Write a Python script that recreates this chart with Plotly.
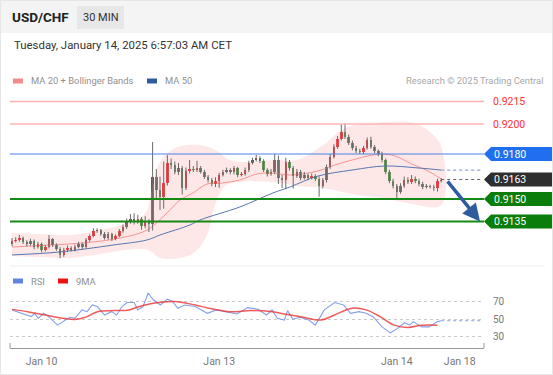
import plotly.graph_objects as go

# ---------------- data ----------------
candle_index = list(range(117))

open_ = [0.91200, 0.91220, 0.91227, 0.91240, 0.91213, 0.91200, 0.91220, 0.91180, 0.91200, 0.91160,
         0.91180, 0.91233, 0.91193, 0.91167, 0.91127, 0.91160, 0.91173, 0.91160, 0.91180, 0.91200,
         0.91180, 0.91227, 0.91253, 0.91287, 0.91293, 0.91267, 0.91240, 0.91267, 0.91233, 0.91253,
         0.91287, 0.91313, 0.91347, 0.91367, 0.91353, 0.91367, 0.91320, 0.91353, 0.91333, 0.91647,
         0.91560, 0.91513, 0.91607, 0.91740, 0.91727, 0.91680, 0.91707, 0.91573, 0.91687, 0.91700,
         0.91693, 0.91707, 0.91680, 0.91647, 0.91627, 0.91600, 0.91620, 0.91660, 0.91680, 0.91693,
         0.91680, 0.91707, 0.91660, 0.91667, 0.91693, 0.91740, 0.91760, 0.91773, 0.91753, 0.91693,
         0.91667, 0.91680, 0.91760, 0.91640, 0.91627, 0.91747, 0.91707, 0.91653, 0.91680, 0.91640,
         0.91660, 0.91640, 0.91653, 0.91633, 0.91587, 0.91627, 0.91713, 0.91780, 0.91847, 0.91900,
         0.91947, 0.91913, 0.91873, 0.91840, 0.91820, 0.91813, 0.91840, 0.91893, 0.91847, 0.91820,
         0.91800, 0.91760, 0.91680, 0.91620, 0.91587, 0.91547, 0.91587, 0.91627, 0.91613, 0.91633,
         0.91620, 0.91600, 0.91580, 0.91587, 0.91580, 0.91573, 0.91620]

close = [0.91220, 0.91227, 0.91240, 0.91213, 0.91200, 0.91220, 0.91180, 0.91200, 0.91160, 0.91180,
         0.91233, 0.91193, 0.91167, 0.91127, 0.91160, 0.91173, 0.91160, 0.91180, 0.91200, 0.91180,
         0.91227, 0.91253, 0.91287, 0.91293, 0.91267, 0.91240, 0.91267, 0.91233, 0.91253, 0.91287,
         0.91313, 0.91347, 0.91367, 0.91353, 0.91367, 0.91320, 0.91353, 0.91333, 0.91647, 0.91560,
         0.91513, 0.91607, 0.91740, 0.91727, 0.91680, 0.91707, 0.91573, 0.91687, 0.91700, 0.91693,
         0.91707, 0.91680, 0.91647, 0.91627, 0.91600, 0.91620, 0.91660, 0.91680, 0.91693, 0.91680,
         0.91707, 0.91660, 0.91667, 0.91693, 0.91740, 0.91760, 0.91773, 0.91753, 0.91693, 0.91667,
         0.91680, 0.91760, 0.91640, 0.91627, 0.91747, 0.91707, 0.91653, 0.91680, 0.91640, 0.91660,
         0.91640, 0.91653, 0.91633, 0.91587, 0.91627, 0.91713, 0.91780, 0.91847, 0.91900, 0.91947,
         0.91913, 0.91873, 0.91840, 0.91820, 0.91813, 0.91840, 0.91893, 0.91847, 0.91820, 0.91800,
         0.91760, 0.91680, 0.91620, 0.91587, 0.91547, 0.91587, 0.91627, 0.91613, 0.91633, 0.91620,
         0.91600, 0.91580, 0.91587, 0.91580, 0.91573, 0.91620, 0.91630]

high = [0.91240, 0.91245, 0.91260, 0.91250, 0.91225, 0.91235, 0.91230, 0.91215, 0.91210, 0.91195,
        0.91260, 0.91240, 0.91205, 0.91180, 0.91175, 0.91190, 0.91185, 0.91195, 0.91215, 0.91210,
        0.91240, 0.91265, 0.91305, 0.91305, 0.91300, 0.91280, 0.91280, 0.91275, 0.91265, 0.91300,
        0.91330, 0.91370, 0.91400, 0.91405, 0.91395, 0.91380, 0.91385, 0.91365, 0.91880, 0.91700,
        0.91650, 0.91750, 0.91793, 0.91770, 0.91750, 0.91740, 0.91720, 0.91710, 0.91760, 0.91720,
        0.91755, 0.91720, 0.91695, 0.91660, 0.91640, 0.91645, 0.91675, 0.91695, 0.91710, 0.91705,
        0.91720, 0.91715, 0.91680, 0.91710, 0.91755, 0.91775, 0.91795, 0.91785, 0.91765, 0.91705,
        0.91700, 0.91800, 0.91790, 0.91660, 0.91775, 0.91760, 0.91720, 0.91700, 0.91695, 0.91680,
        0.91670, 0.91670, 0.91665, 0.91650, 0.91640, 0.91730, 0.91800, 0.91865, 0.91920, 0.92000,
        0.92007, 0.91930, 0.91890, 0.91855, 0.91835, 0.91855, 0.91910, 0.91915, 0.91860, 0.91830,
        0.91815, 0.91770, 0.91695, 0.91635, 0.91600, 0.91605, 0.91650, 0.91645, 0.91660, 0.91650,
        0.91635, 0.91615, 0.91600, 0.91595, 0.91595, 0.91635, 0.91640]

low = [0.91185, 0.91210, 0.91215, 0.91200, 0.91185, 0.91190, 0.91165, 0.91170, 0.91145, 0.91150,
       0.91170, 0.91180, 0.91155, 0.91105, 0.91115, 0.91145, 0.91150, 0.91150, 0.91170, 0.91165,
       0.91170, 0.91215, 0.91245, 0.91275, 0.91255, 0.91230, 0.91230, 0.91220, 0.91225, 0.91245,
       0.91275, 0.91300, 0.91335, 0.91330, 0.91335, 0.91295, 0.91305, 0.91280, 0.91290, 0.91500,
       0.91427, 0.91435, 0.91590, 0.91700, 0.91665, 0.91660, 0.91530, 0.91560, 0.91670, 0.91680,
       0.91680, 0.91670, 0.91635, 0.91610, 0.91585, 0.91580, 0.91575, 0.91650, 0.91670, 0.91665,
       0.91665, 0.91645, 0.91650, 0.91655, 0.91680, 0.91730, 0.91750, 0.91740, 0.91680, 0.91650,
       0.91655, 0.91665, 0.91600, 0.91573, 0.91565, 0.91690, 0.91570, 0.91640, 0.91625, 0.91630,
       0.91625, 0.91630, 0.91620, 0.91515, 0.91570, 0.91610, 0.91700, 0.91770, 0.91835, 0.91890,
       0.91900, 0.91860, 0.91825, 0.91805, 0.91800, 0.91800, 0.91830, 0.91835, 0.91805, 0.91785,
       0.91745, 0.91665, 0.91605, 0.91570, 0.91507, 0.91535, 0.91575, 0.91600, 0.91600, 0.91605,
       0.91585, 0.91565, 0.91570, 0.91570, 0.91555, 0.91550, 0.91610]

ma50_idx = [0, 13, 27.3, 36.5, 40, 48.1, 50.8, 61.6, 70.5, 75.1, 82.7, 91.9, 100.8, 109.7, 116]
ma50 = [0.91127, 0.91147, 0.91193, 0.91227, 0.91260, 0.91327, 0.91360, 0.91447, 0.91540,
        0.91580, 0.91653, 0.91693, 0.91720, 0.91707, 0.91693]

ma20_idx = [0, 10.3, 19.2, 29.2, 36.5, 41.9, 45.4, 48.9, 52.7, 57, 61.6, 66.2, 70.5, 75.1,
            82.7, 87.3, 91.9, 96.2, 100, 103.5, 108.1, 112.4, 116]
ma20 = [0.91180, 0.91193, 0.91207, 0.91240, 0.91293, 0.91407, 0.91493, 0.91540, 0.91600,
        0.91607, 0.91627, 0.91667, 0.91673, 0.91660, 0.91687, 0.91727, 0.91760, 0.91787,
        0.91800, 0.91787, 0.91733, 0.91687, 0.91633]

bb_up_idx = [0, 7.6, 15.7, 23.8, 30.5, 35.9, 37.8, 40, 44.1, 50.8, 54.9, 58.9, 64.3, 71.1,
             77, 84.1, 90, 97.6, 108.4, 113, 116]
bb_up = [0.91273, 0.91267, 0.91260, 0.91293, 0.91333, 0.91400, 0.91560, 0.91747, 0.91840,
         0.91860, 0.91827, 0.91760, 0.91747, 0.91760, 0.91760, 0.91860, 0.91973, 0.92007,
         0.92007, 0.91947, 0.91850]

bb_lo_idx = [0, 7.6, 15.7, 23.8, 30.5, 36.8, 40, 45.4, 49.5, 52.7, 54.9, 57.6, 61.6, 70.5,
             77, 84.1, 93.2, 100.3, 106.8, 116]
bb_lo = [0.91120, 0.91113, 0.91107, 0.91133, 0.91160, 0.91160, 0.91107, 0.91107, 0.91147,
         0.91260, 0.91460, 0.91587, 0.91613, 0.91613, 0.91587, 0.91573, 0.91527, 0.91507,
         0.91473, 0.91460]

rsi_idx = [0, 1.4, 3.3, 5.2, 6.1, 7.1, 8.5, 9.9, 12.3, 13.7, 15.6, 17, 18.9, 20.3, 21.7, 23.1,
           25, 26.9, 28.3, 29.7, 31.1, 33, 34, 35.4, 36.8, 38.2, 40.1, 42, 43.4, 44.8, 46.7,
           49.5, 52.8, 55.2, 58, 60.8, 63.7, 66.5, 68.8, 70.3, 71.7, 73.6, 74.5, 75.9, 77.8,
           80.2, 82, 84.4, 87.2, 89.6, 91.5, 93.8, 95.7, 97.6, 100, 102.3, 104.2, 106.1,
           107.5, 108.4, 110.8, 112.7, 115, 116]
rsi = [60.4, 58.4, 55.8, 52.7, 56.5, 50.8, 56.5, 52.7, 43, 47, 52, 50.8, 60.4, 58.4, 66, 64.2,
       54.6, 58.4, 54.6, 64.2, 68.8, 68.8, 60.4, 64.2, 79.7, 72, 66, 72.7, 70, 62.3, 66,
       64.2, 56.5, 60.4, 58.4, 55.8, 63, 61.2, 54.6, 60.4, 50.8, 48.8, 59.6, 49.6, 52,
       48.8, 43, 60.4, 68.8, 66, 56.5, 58.4, 56.5, 52.7, 41, 34.2, 39.3, 45.7,
       43, 47, 41, 41, 47, 48]

rsi_ma_idx = [0, 4.2, 9, 13.7, 17.4, 20.3, 23.1, 27.8, 31.6, 34.4, 38.2, 43.8, 49.5, 53.3,
              58.9, 64.6, 70.3, 74, 78.7, 83.5, 87.2, 91.9, 95.7, 99.5, 103.3, 107, 110.8, 115]
rsi_ma = [61, 58.4, 54.6, 50.8, 49.6, 52.7, 58.4, 59.6, 60.4, 64.2, 68, 70, 66, 62.3,
          58.4, 59.6, 58.4, 55.4, 52, 48.8, 54.6, 62.3, 60.4, 52.7, 43, 40.4, 43, 43]

levels = [0.9215, 0.9200, 0.9180, 0.9163, 0.9150, 0.9135]
level_labels = ["0.9215", "0.9200", "0.9180", "0.9163", "0.9150", "0.9135"]
level_kinds = ["res", "res", "blue", "last", "green", "green"]
target_level = 0.9135

tick_idx = [8, 56, 104, 121]
tick_text = ["Jan 10", "Jan 13", "Jan 14", "Jan 18"]
rsi_ticks = [30, 50, 70]

# ---------------- layout helpers ----------------
W, H = 553, 375
FONT = "Roboto, Arial, sans-serif"


def px(x):
    return x / W


def py(y):
    return 1 - y / H


PIX_PER_PRICE = 15000.0
UP_COL = "#e3202a"
DN_COL = "#2b8a3a"

fig = go.Figure()

# Bollinger band blob
fig.add_trace(go.Scatter(
    x=bb_up_idx + bb_lo_idx[::-1], y=bb_up + bb_lo[::-1],
    mode="lines", fill="toself", fillcolor="rgba(250,170,170,0.28)",
    line=dict(width=0, shape="spline", smoothing=1.0),
    hoverinfo="skip", xaxis="x", yaxis="y"))

# MA 20
fig.add_trace(go.Scatter(x=ma20_idx, y=ma20, mode="lines",
                         line=dict(color="rgba(240,120,120,0.75)", width=1, shape="spline"),
                         hoverinfo="skip", xaxis="x", yaxis="y"))
# MA 50
fig.add_trace(go.Scatter(x=ma50_idx, y=ma50, mode="lines",
                         line=dict(color="#5877b0", width=1, shape="spline"),
                         hoverinfo="skip", xaxis="x", yaxis="y"))
ext_end = 127.0
fig.add_trace(go.Scatter(x=[ma50_idx[-1], ext_end], y=[ma50[-1], ma50[-1]], mode="lines",
                         line=dict(color="#8ea6d6", width=1.2, dash="dot"),
                         hoverinfo="skip", xaxis="x", yaxis="y"))
# last price dotted
fig.add_trace(go.Scatter(x=[candle_index[-1], ext_end], y=[close[-1], close[-1]], mode="lines",
                         line=dict(color="#666666", width=1.2, dash="dot"),
                         hoverinfo="skip", xaxis="x", yaxis="y"))

# wicks
wx, wy = [], []
for i, h, l in zip(candle_index, high, low):
    wx += [i, i, None]
    wy += [l, h, None]
fig.add_trace(go.Scatter(x=wx, y=wy, mode="lines", line=dict(color="#6a6a6a", width=1),
                         hoverinfo="skip", xaxis="x", yaxis="y"))

# bodies
bases, heights, cols = [], [], []
for o, c in zip(open_, close):
    bases.append(min(o, c))
    heights.append(max(abs(c - o), 0.00004))
    cols.append(UP_COL if c >= o else DN_COL)
fig.add_trace(go.Bar(x=candle_index, y=heights, base=bases, width=0.66,
                     marker=dict(color=cols, line=dict(width=0)),
                     hoverinfo="skip", xaxis="x", yaxis="y"))

# RSI
fig.add_trace(go.Scatter(x=rsi_idx, y=rsi, mode="lines",
                         line=dict(color="#86a0ea", width=1.1),
                         hoverinfo="skip", xaxis="x", yaxis="y2"))
fig.add_trace(go.Scatter(x=[rsi_idx[-1], ext_end], y=[rsi[-1], rsi[-1]], mode="lines",
                         line=dict(color="#86a0ea", width=1.2, dash="dot"),
                         hoverinfo="skip", xaxis="x", yaxis="y2"))
fig.add_trace(go.Scatter(x=rsi_ma_idx, y=rsi_ma, mode="lines",
                         line=dict(color="rgba(236,50,50,0.8)", width=1.5, shape="spline"),
                         hoverinfo="skip", xaxis="x", yaxis="y2"))

shapes = []
annotations = []

# header band
shapes.append(dict(type="rect", xref="paper", yref="paper", x0=0, x1=1, y0=py(33), y1=1,
                   fillcolor="#f4f4f4", line=dict(width=0), layer="below"))
shapes.append(dict(type="rect", xref="paper", yref="paper", x0=px(77), x1=px(124),
                   y0=py(29), y1=py(6), fillcolor="#e7e7e7", line=dict(width=0), layer="below"))
# outer border
shapes.append(dict(type="rect", xref="paper", yref="paper", x0=px(0.5), x1=px(552.5),
                   y0=py(374.5), y1=py(0.5), line=dict(color="#e6e6e6", width=1)))
# panel separator
shapes.append(dict(type="line", xref="paper", yref="paper", x0=px(10), x1=px(545),
                   y0=py(266), y1=py(266), line=dict(color="#eeeeee", width=1)))

# level lines + tags
half = 7.0 / PIX_PER_PRICE
for lv, lab, kind in zip(levels, level_labels, level_kinds):
    if kind == "res":
        shapes.append(dict(type="line", xref="x domain", yref="y", x0=0, x1=1, y0=lv, y1=lv,
                           line=dict(color="#fbb4b4", width=1.7)))
        annotations.append(dict(xref="paper", yref="y", x=px(491), y=lv, text=lab,
                                showarrow=False, xanchor="left", yanchor="middle",
                                font=dict(family=FONT, size=10.5, color="#ff3030")))
        continue
    if kind == "blue":
        lcol, tcol, lw = "#4a82e6", "#1f6ff0", 1
    elif kind == "green":
        lcol, tcol, lw = "#148a14", "#0a7d0a", 2
    else:
        lcol, tcol, lw = None, "#2e2e2e", 0
    if lcol:
        shapes.append(dict(type="line", xref="x domain", yref="y", x0=0, x1=1, y0=lv, y1=lv,
                           line=dict(color=lcol, width=lw)))
    xa, xb, xc = px(484), px(491), px(552)
    path = (f"M {xa},{lv} L {xb},{lv + half} L {xc},{lv + half} "
            f"L {xc},{lv - half} L {xb},{lv - half} Z")
    shapes.append(dict(type="path", xref="paper", yref="y", path=path,
                       fillcolor=tcol, line=dict(width=0)))
    annotations.append(dict(xref="paper", yref="y", x=px(491.5), y=lv, text=lab,
                            showarrow=False, xanchor="left", yanchor="middle",
                            font=dict(family=FONT, size=10.5, color="white")))

# x axis end caps
for xe in (0, 1):
    shapes.append(dict(type="line", xref="x domain", yref="paper", x0=xe, x1=xe,
                       y0=py(348), y1=py(343), line=dict(color="#999999", width=1)))

# forecast arrow
annotations.append(dict(x=candle_index[-1] + 10.5, y=target_level,
                        ax=candle_index[-1] + 1.4, ay=close[-1] - 0.00003,
                        xref="x", yref="y", axref="x", ayref="y", text="",
                        showarrow=True, arrowhead=2, arrowsize=1.0, arrowwidth=3.5,
                        arrowcolor="#2f5c9e", standoff=0))

# header texts
annotations.append(dict(xref="paper", yref="paper", x=px(10), y=py(17), text="<b>USD/CHF</b>",
                        showarrow=False, xanchor="left", yanchor="middle",
                        font=dict(family=FONT, size=13.5, color="#222222")))
annotations.append(dict(xref="paper", yref="paper", x=px(100.5), y=py(17.5), text="30 MIN",
                        showarrow=False, xanchor="center", yanchor="middle",
                        font=dict(family=FONT, size=11, color="#333333")))
annotations.append(dict(xref="paper", yref="paper", x=px(12), y=py(45),
                        text="Tuesday, January 14, 2025 6:57:03 AM CET",
                        showarrow=False, xanchor="left", yanchor="middle",
                        font=dict(family=FONT, size=11.4, color="#333333")))
annotations.append(dict(xref="paper", yref="paper", x=px(545), y=py(81),
                        text="Research © 2025 Trading Central",
                        showarrow=False, xanchor="right", yanchor="middle",
                        font=dict(family=FONT, size=9.4, color="#a8a8a8")))


def legend_item(x_sw, y, color, text):
    shapes.append(dict(type="rect", xref="paper", yref="paper", x0=px(x_sw), x1=px(x_sw + 10),
                       y0=py(y + 2.5), y1=py(y - 2.5), fillcolor=color, line=dict(width=0)))
    annotations.append(dict(xref="paper", yref="paper", x=px(x_sw + 16), y=py(y), text=text,
                            showarrow=False, xanchor="left", yanchor="middle",
                            font=dict(family=FONT, size=9.4, color="#8f8f8f")))


legend_item(13, 81, "#f58a8a", "MA 20 + Bollinger Bands")
legend_item(147, 81, "#2f5c9e", "MA 50")
legend_item(13, 281, "#5f83e0", "RSI")
legend_item(58, 281, "#ee1111", "9MA")

# RSI axis pixel mapping: 70 -> 301.5px, 30 -> 336.5px
rsi_px_per_unit = 0.875
rsi_lo = 50 - (348 - 319) / rsi_px_per_unit
rsi_hi = 50 + (319 - 285) / rsi_px_per_unit
price_top = 0.9200 + (124 - 90) / PIX_PER_PRICE
price_bot = 0.9200 - (262 - 124) / PIX_PER_PRICE
x_lo = (10 - 12) / 3.7
x_hi = (484 - 12) / 3.7

fig.update_layout(
    width=W, height=H,
    margin=dict(l=0, r=0, t=0, b=0),
    paper_bgcolor="white", plot_bgcolor="rgba(0,0,0,0)",
    showlegend=False,
    bargap=0,
    font=dict(family=FONT),
    xaxis=dict(domain=[px(10), px(484)], range=[x_lo, x_hi], anchor="y2",
               showline=True, linecolor="#9a9a9a", linewidth=1,
               tickmode="array", tickvals=tick_idx, ticktext=tick_text,
               ticks="outside", ticklen=3, tickcolor="rgba(0,0,0,0)",
               tickfont=dict(family=FONT, size=10.5, color="#777777"),
               showgrid=False, zeroline=False, fixedrange=True),
    yaxis=dict(domain=[py(262), py(90)], range=[price_bot, price_top], visible=False,
               fixedrange=True),
    yaxis2=dict(domain=[py(348), py(285)], range=[rsi_lo, rsi_hi], anchor="x", side="right",
                tickmode="array", tickvals=rsi_ticks,
                showgrid=True, gridcolor="#c9c9c9", griddash="dot", gridwidth=1,
                ticks="outside", ticklen=6, tickcolor="rgba(0,0,0,0)",
                tickfont=dict(family=FONT, size=10, color="#777777"),
                zeroline=False, showline=False, fixedrange=True),
    shapes=shapes,
    annotations=annotations,
)

fig.write_html("out.html", config={"displayModeBar": False, "staticPlot": True},
               post_script="document.body.style.margin='0';document.body.style.overflow='hidden';")
